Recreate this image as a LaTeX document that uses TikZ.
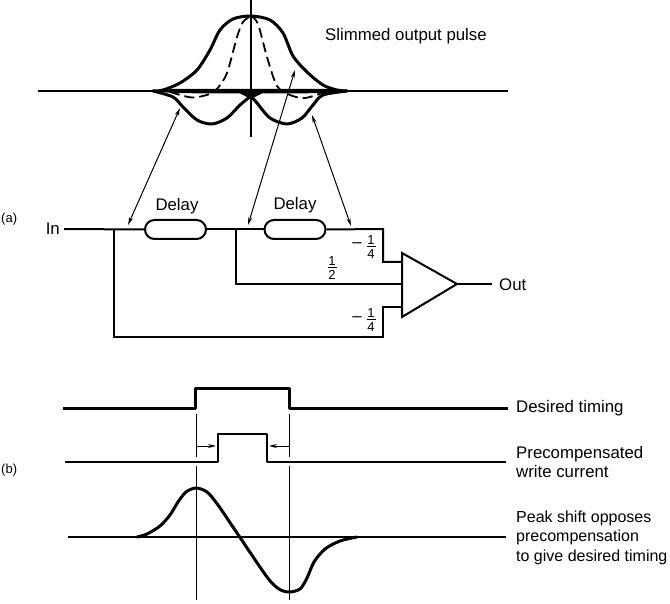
\documentclass[tikz,border=0pt]{standalone}
\usepackage{fontspec}
\setmainfont{Liberation Sans}
\usetikzlibrary{arrows.meta,shapes.misc,calc}
\newcommand{\tapfrac}[2]{\vbox{\hbox to 9pt{\hss#1\hss}\kern1.6pt\hrule height 1pt\kern1.8pt\hbox to 9pt{\hss#2\hss}}}
\tikzset{
  wire/.style={line width=2pt,line join=miter},
  heavy/.style={line width=3pt,line join=round},
  pulse/.style={line width=3pt,line cap=round,line join=round},
  guide/.style={line width=1pt},
  delaybox/.style={draw,line width=2pt,rounded rectangle,minimum width=61pt,minimum height=19pt,inner sep=0pt},
  ptr/.style={line width=1pt,{Stealth[length=8pt,width=4pt]}-{Stealth[length=8pt,width=4pt]}},
  ptrs/.style={line width=1pt,-{Stealth[length=8pt,width=4pt]}},
  txt/.style={inner sep=0pt,font=\fontsize{16.8}{19.6}\selectfont},
  lab/.style={txt,anchor=west,align=left},
  frac/.style={inner sep=0pt,font=\fontsize{13}{14}\selectfont},
  tag/.style={inner sep=0pt,anchor=west,font=\fontsize{13}{15}\selectfont},
}
\begin{document}
\begin{tikzpicture}[x=1pt,y=-1pt]
\useasboundingbox (0,0) rectangle (670,604);

% Output pulse and its components
\coordinate (axL) at (38,91); \coordinate (axR) at (508,91);
\coordinate (vT) at (251,0); \coordinate (vB) at (251,137);
\draw[line width=1.4pt] (axL) -- (axR);
\draw[line width=1.4pt] (vT) -- (vB);
\fill (151,91) -- (175,88.8) -- (251,89) -- (325,88.8) -- (349,91) -- (325,93.2) -- (262,93.4) -- (251,99) -- (240,93.4) -- (175,93.2) -- cycle;
\draw[pulse] plot[smooth] coordinates {(153,91) (163,90) (180,83) (197,70) (210,50) (220,30) (233,19) (251,16) (270,20) (283,33) (293,56) (307,72) (323,85) (337,90) (347,91)};
\draw[pulse] plot[smooth] coordinates {(153,91) (173,97) (183,107) (197,120) (212,124) (227,118) (240,105) (251,96)};
\draw[pulse] plot[smooth] coordinates {(251,96) (257,103) (270,118) (287,124) (302,118) (313,105) (323,95) (347,91)};
\draw[line width=1.8pt,dash pattern=on 10pt off 5pt] plot[smooth] coordinates {(170,92) (192,97.5) (210,94) (217,89) (227,73) (237,37) (243,22) (251,16)};
\draw[line width=1.8pt,dash pattern=on 10pt off 5pt] plot[smooth] coordinates {(251,16) (258,24) (267,57) (277,86) (290,95) (305,98) (325,92)};

% Equaliser circuit
\node[delaybox] (d1) at (175.5,229.5) {};
\node[delaybox] (d2) at (295,229.5) {};
\node[txt,anchor=base] (dl1) at (177,210.5) {Delay};
\node[txt,anchor=base] (dl2) at (295,210) {Delay};
\node[txt,anchor=east] (in) at (60,228.5) {In};
\coordinate (inS) at (64,229);
\coordinate (j1) at (114,229);
\coordinate (j2) at (236,229);
\coordinate (tl) at (383,229);
\coordinate (bl) at (383,337);
\coordinate (a1) at (402,253);
\coordinate (a2) at (402,317);
\coordinate (a3) at (457,284);
\draw[wire] (a1) -- (a3) -- (a2) -- cycle;
\draw[wire] (inS) -- (d1.west);
\draw[wire] (d1.east) -- (d2.west);
\draw[wire] (d2.east) -- (tl) -- (383,262) -- (402,262);
\draw[wire] (j2) -- (236,284) -- (402,284);
\draw[wire] (j1) -- (114,337) -- (bl) -- (383,307) -- (402,307);
\coordinate (oS) at (492,284);
\draw[wire] (a3) -- (oS);
\node[txt,anchor=west] (out) at (499,284.5) {Out};
\node[frac,font=\fontsize{16.8}{18}\selectfont] (mn1) at (357,245) {–};
\node[frac] (f1) at (371,247) {\tapfrac{1}{4}};
\node[frac,font=\fontsize{16.8}{18}\selectfont] (mn3) at (357,319) {–};
\node[frac] (f3) at (371,320) {\tapfrac{1}{4}};
\node[frac] (f2) at (332,268) {\tapfrac{1}{2}};
\node[tag] (la) at (1,219) {(a)};

% Pointers from pulse to taps
\coordinate (p1a) at (180,108); \coordinate (p1b) at (128,225);
\coordinate (p2a) at (295,70);  \coordinate (p2b) at (248,225);
\coordinate (p3a) at (312,115); \coordinate (p3b) at (351,226);
\draw[ptr] (p1a) -- (p1b);
\draw[ptr] (p2a) -- (p2b);
\draw[ptr] (p3a) -- (p3b);
\node[lab] (ttl) at (325,36) {Slimmed output pulse};

% Write precompensation
\draw[heavy] (63,408) -- (195,408) -- (195,388) -- (289,388) -- (289,408) -- (508,408);
\draw[line width=2.7pt,line join=round] (65,462) -- (218,462) -- (218,434) -- (267,434) -- (267,462) -- (506,462);
\node[lab] (t1) at (516,408) {Desired timing};
\node[lab] (t2) at (516,462) {Precompensated\\write current};
\node[lab,font=\fontsize{16}{19.6}\selectfont] (t3) at (516,537.5) {Peak shift opposes\\precompensation\\to give desired timing};
\node[tag] (lb) at (1,470) {(b)};

\coordinate (g1t) at (196,414); \coordinate (g1m) at (196,457);
\coordinate (g1n) at (196,466); \coordinate (g1b) at (196,600);
\coordinate (g2t) at (289,414); \coordinate (g2m) at (289,457);
\coordinate (g2n) at (289,466); \coordinate (g2b) at (289,600);
\draw[guide] (g1t) -- (g1m) (g1n) -- (g1b);
\draw[guide] (g2t) -- (g2m) (g2n) -- (g2b);
\draw[ptrs] (196,446) -- (216,446);
\draw[ptrs] (289,446) -- (269,446);
\draw[line width=1.3pt] (68,537) -- (506,537);
\draw[pulse] plot[smooth] coordinates {(137,537) (147,534) (160,526) (170,515) (178,502) (186,492) (196,488) (207,492) (218,505) (237,533) (267,577) (279,589) (289,592) (300,589) (307,578) (314,562) (325,549) (340,541) (357,537)};
\end{tikzpicture}
\end{document}
